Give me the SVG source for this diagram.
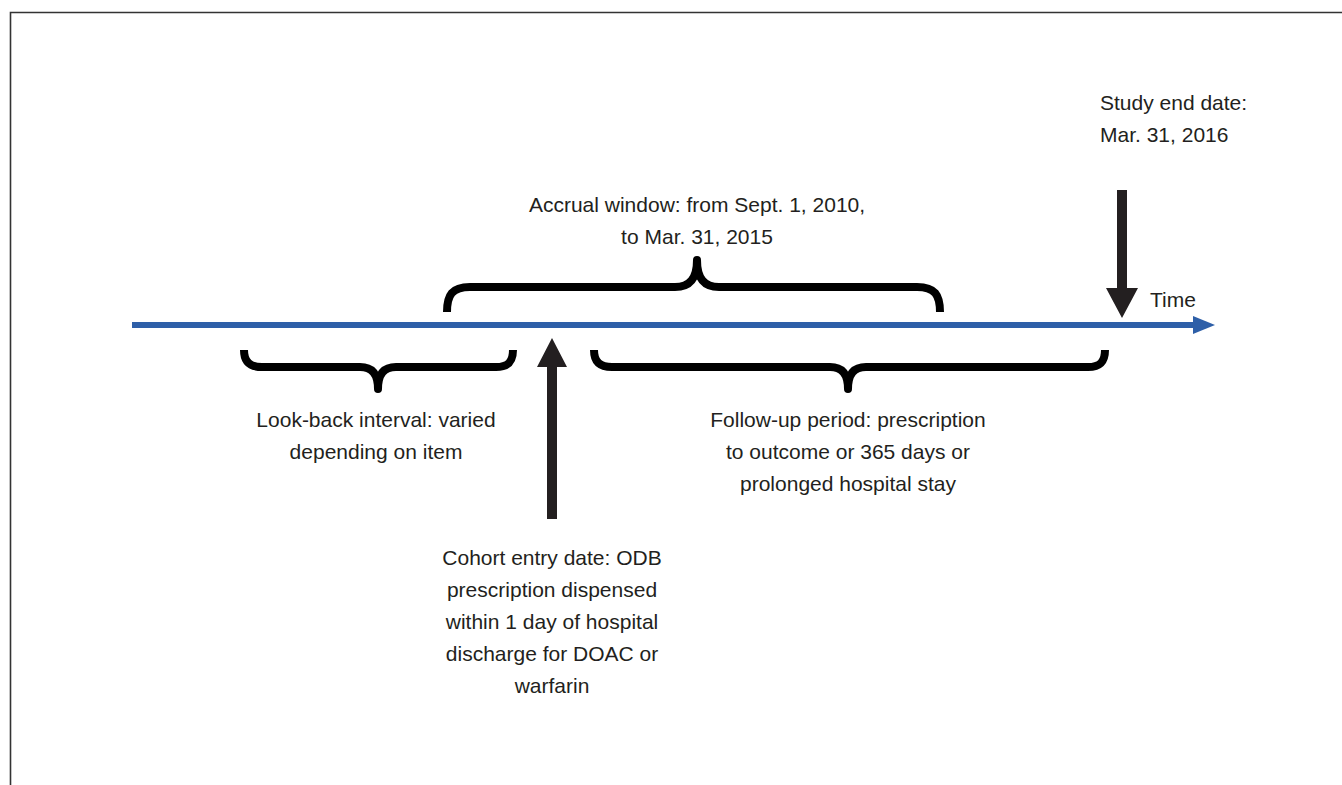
<svg xmlns="http://www.w3.org/2000/svg" width="1342" height="785" viewBox="0 0 1342 785">
<style>
.t{font-family:"Liberation Sans",Arial,Helvetica,sans-serif;font-size:21px;fill:#231f20;text-anchor:middle}
.l{text-anchor:start}
.br{fill:none;stroke:#000;stroke-width:8;stroke-linejoin:round;stroke-linecap:butt}
.ar{fill:#231f20}
</style>
<rect width="1342" height="785" fill="#fff"/>
<path d="M10.5,785 L10.5,12.5 L1342,12.5" fill="none" stroke="#333" stroke-width="1.6"/>
<g id="connectors">
<line x1="132" y1="325" x2="1197" y2="325" stroke="#2e5fa8" stroke-width="6"/>
<polygon points="1193,316 1215,325 1193,334" fill="#2e5fa8"/>
</g>
<g id="time"><text class="t l" x="1150" y="307">Time</text></g>
<g id="study-end">
<polygon class="ar" points="1117,190 1127,190 1127,288 1138,288 1122,318 1106,288 1117,288"/>
<text class="t l" x="1100" y="110">Study end date:</text>
<text class="t l" x="1100" y="142">Mar. 31, 2016</text>
</g>
<g id="accrual">
<path class="br" d="M447,312 C447,295 452,287 470,287 L675,287 C690,287 697,278 697,260 C697,278 704,287 719,287 L917,287 C935,287 940,295 940,312"/>
<text class="t" x="697" y="212">Accrual window: from Sept. 1, 2010,</text>
<text class="t" x="697" y="244">to Mar. 31, 2015</text>
</g>
<g id="lookback">
<path class="br" d="M244,350 C244,362 250,367 262,367 L360,367 C372,367 378,374 378,389 C378,374 384,367 396,367 L496,367 C508,367 513,362 513,350"/>
<text class="t" x="376" y="427">Look-back interval: varied</text>
<text class="t" x="376" y="459">depending on item</text>
</g>
<g id="followup">
<path class="br" d="M594,350 C594,362 600,367 612,367 L830,367 C842,367 848,374 848,389 C848,374 854,367 866,367 L1088,367 C1100,367 1105,362 1105,350"/>
<text class="t" x="848" y="427">Follow-up period: prescription</text>
<text class="t" x="848" y="459">to outcome or 365 days or</text>
<text class="t" x="848" y="491">prolonged hospital stay</text>
</g>
<g id="cohort">
<polygon class="ar" points="547,519 557,519 557,367 567,367 552,338 537,367 547,367"/>
<text class="t" x="552" y="565">Cohort entry date: ODB</text>
<text class="t" x="552" y="597">prescription dispensed</text>
<text class="t" x="552" y="629">within 1 day of hospital</text>
<text class="t" x="552" y="661">discharge for DOAC or</text>
<text class="t" x="552" y="693">warfarin</text>
</g>
</svg>
